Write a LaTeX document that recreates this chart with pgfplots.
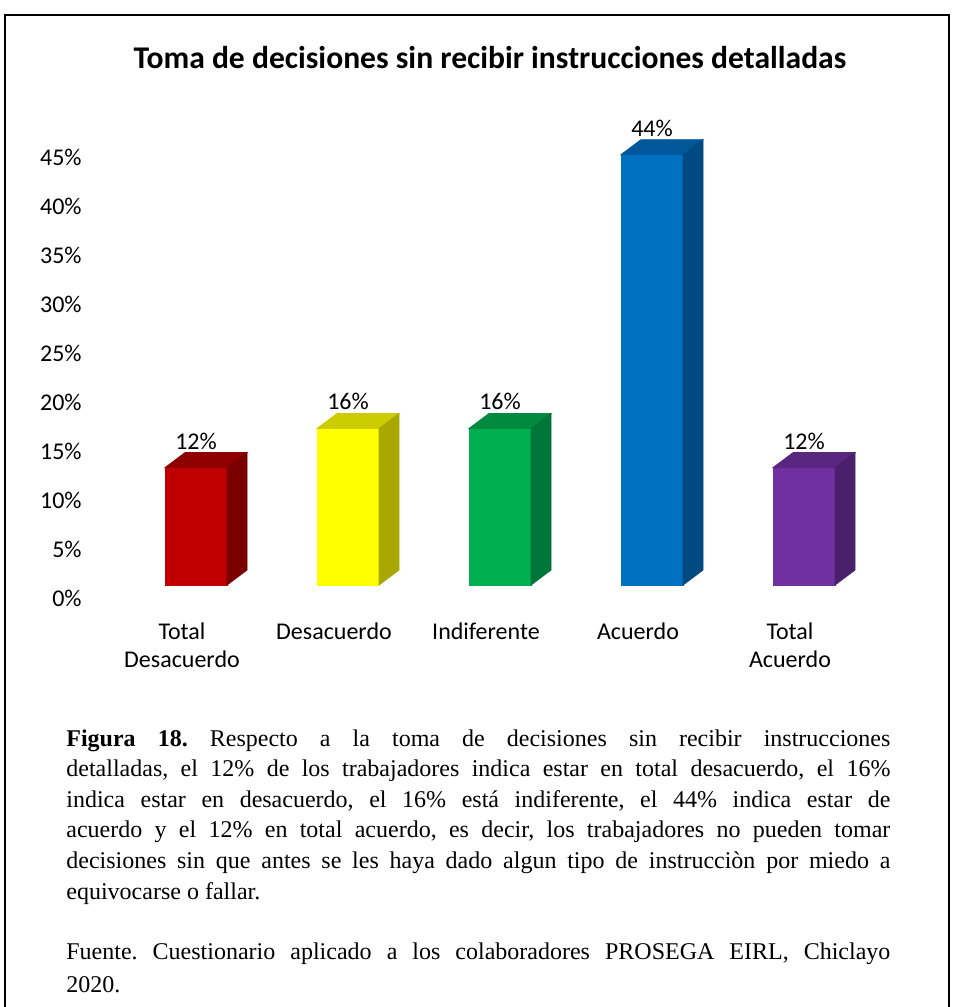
\documentclass[border=0pt]{standalone}
\usepackage{fontspec}
\usepackage{pgfplots}
\pgfplotsset{compat=1.18}
\newfontfamily\calibri{Carlito}
\newfontfamily\tnr{Liberation Serif}

% bar colours: front, top, side
\definecolor{redF}{HTML}{C00000}\definecolor{redT}{HTML}{8E0000}\definecolor{redS}{HTML}{7A0000}
\definecolor{yelF}{HTML}{FFFF00}\definecolor{yelT}{HTML}{CCCC00}\definecolor{yelS}{HTML}{A8A800}
\definecolor{grnF}{HTML}{00B050}\definecolor{grnT}{HTML}{008A3F}\definecolor{grnS}{HTML}{00753A}
\definecolor{bluF}{HTML}{0070C0}\definecolor{bluT}{HTML}{00589A}\definecolor{bluS}{HTML}{004A82}
\definecolor{purF}{HTML}{7030A0}\definecolor{purT}{HTML}{592680}\definecolor{purS}{HTML}{4A1F6B}

% one 3D bar per point, drawn from the point's value
\pgfplotsset{
  bar3d/.style n args={3}{
    scatter, only marks, mark=*, mark size=0pt,
    mark options={draw=none,fill=none},
    visualization depends on={rawy \as \rawy},
    scatter/@pre marker code/.code={%
      \begingroup
      \pgfkeys{/pgf/fpu=false}%
      \pgfmathsetmacro\yb{6.5-4.89*\rawy}%
      \pgfmathsetmacro\yc{14-4.89*\rawy}%
      \fill[#1] (-15.5pt,\yb pt) rectangle (15.5pt,6.5pt);
      \fill[#2] (-15.5pt,6.5pt) -- (15.5pt,6.5pt) -- (25.5pt,14pt) -- (-5.5pt,14pt) -- cycle;
      \fill[#3] (15.5pt,\yb pt) -- (25.5pt,\yc pt) -- (25.5pt,14pt) -- (15.5pt,6.5pt) -- cycle;
      \endgroup
    },
    scatter/@post marker code/.code={},
  },
}
\newcommand\jl[1]{\hbox to 412pt{#1}}

\begin{document}
\begin{tikzpicture}
\begin{scope}[x=0.5pt,y=-0.5pt]
\useasboundingbox (0,0) rectangle (953,1007);
\draw[line width=1pt] (5,1012) -- (5,15) -- (949,15) -- (949,1012);
\node[anchor=base, inner sep=0pt] at (490,68)
  {\calibri\bfseries\fontsize{15.8}{18}\selectfont Toma de decisiones sin recibir instrucciones detalladas};
\node[anchor=base west, inner sep=0pt] at (66,746) {\tnr\fontsize{12}{15.3}\selectfont\frenchspacing
  \vtop{\baselineskip=15.3pt
  \jl{\textbf{Figura 18.} Respecto a la toma de decisiones sin recibir instrucciones}
  \jl{detalladas, el 12\% de los trabajadores indica estar en total desacuerdo, el 16\%}
  \jl{indica estar en desacuerdo, el 16\% está indiferente, el 44\% indica estar de}
  \jl{acuerdo y el 12\% en total acuerdo, es decir, los trabajadores no pueden tomar}
  \jl{decisiones sin que antes se les haya dado algun tipo de instrucciòn por miedo a}
  \hbox{equivocarse o fallar.}
  \vskip 14.7pt
  \jl{Fuente. Cuestionario aplicado a los colaboradores PROSEGA EIRL, Chiclayo}
  \vskip 1.5pt
  \hbox{2020.}}};
\end{scope}
\begin{axis}[
  at={(37.2pt,-299pt)}, anchor=south west,
  x=76pt, y=4.89pt,
  xmin=-0.8, xmax=4.8, ymin=0, ymax=48,
  clip=false,
  axis line style={draw=none},
  tick style={draw=none},
  xtick={0,1,2,3,4},
  xticklabels={{Total\\Desacuerdo},Desacuerdo,Indiferente,Acuerdo,{Total\\Acuerdo}},
  ytick={0,5,...,45},
  yticklabels={0\%,5\%,10\%,15\%,20\%,25\%,30\%,35\%,40\%,45\%},
  tick label style={font=\calibri\fontsize{12}{14}\selectfont, text=black},
  xticklabel style={align=center, inner sep=0pt, anchor=north, xshift=-7pt, yshift=-12pt},
  yticklabel style={anchor=east, inner sep=0pt, xshift=3.8pt},
  point meta min=0, point meta max=50,
]
\addplot[bar3d={redF}{redT}{redS}] coordinates {(0,12)};
\addplot[bar3d={yelF}{yelT}{yelS}] coordinates {(1,16)};
\addplot[bar3d={grnF}{grnT}{grnS}] coordinates {(2,16)};
\addplot[bar3d={bluF}{bluT}{bluS}] coordinates {(3,44)};
\addplot[bar3d={purF}{purT}{purS}] coordinates {(4,12)};
% value labels
\addplot[only marks, mark=*, mark size=0pt, mark options={draw=none,fill=none},
  nodes near coords={\pgfmathprintnumber[assume math mode=true]{\pgfplotspointmeta}\%},
  every node near coord/.append style={font=\calibri\fontsize{12}{14}\selectfont,
    text=black, anchor=south, inner sep=0pt, yshift=15.5pt}]
  coordinates {(0,12) (1,16) (2,16) (3,44) (4,12)};
\end{axis}
\end{tikzpicture}
\end{document}
